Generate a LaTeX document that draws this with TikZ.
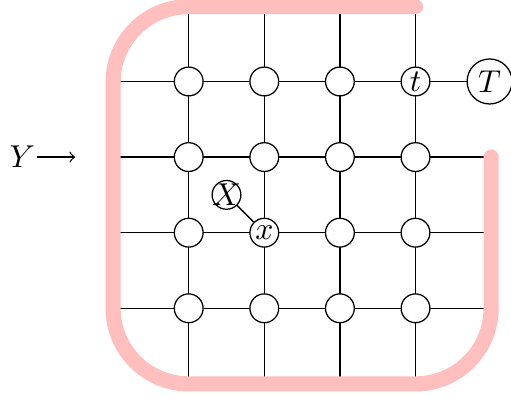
\documentclass[tikz,border=0pt]{standalone}
\begin{document}
\begin{tikzpicture}[x=0.84cm,y=0.84cm,
  gridline/.style={line width=0.4pt},
  vtx/.style={circle,draw,fill=white,minimum size=0.32cm,inner sep=0pt},
  bigv/.style={circle,draw,fill=white,minimum size=0.5cm,inner sep=0pt},
  wall/.style={pink,line width=4.8pt,line cap=round,rounded corners=0.84cm}]
\useasboundingbox (-2.496,-1.187) rectangle (4.263,4.078);
% grid line ends
\foreach \i in {0,...,3} {
  \coordinate (L\i) at (-1,\i);
  \coordinate (R\i) at (4,\i);
  \coordinate (B\i) at (\i,-1);
  \coordinate (U\i) at (\i,4);
  \draw[gridline] (L\i) -- (R\i);
  \draw[gridline] (B\i) -- (U\i);
}
% pink wall
\coordinate (w1) at (3,3.99);
\coordinate (w2) at (-1,3.99);
\coordinate (w3) at (-1,-1);
\coordinate (w4) at (4,-1);
\coordinate (w5) at (4,2);
\draw[wall] (w1) -- (w2) -- (w3) -- (w4) -- (w5);
% vertices
\foreach \a/\b in {0/0,1/0,2/0,3/0,0/1,2/1,3/1,0/2,1/2,2/2,3/2,0/3,1/3,2/3}
  \node[vtx] (v\a\b) at (\a,\b) {};
\node[vtx] (x) at (1,1) {$x$};
\node[vtx] (t) at (3,3) {$t$};
\node[vtx,inner sep=-1.5pt] (X) at (0.5,1.5) {$X$};
\node[bigv] (T) at (3.98,3) {$T$};
\draw (X) -- (x);
\draw[semithick] (t) -- (T);
% Y arrow
\node[inner sep=0.5pt] (Y) at (-2.2,2) {$Y$};
\coordinate (Yend) at (-1.5,2);
\draw[->] (Y) -- (Yend);
\end{tikzpicture}
\end{document}
